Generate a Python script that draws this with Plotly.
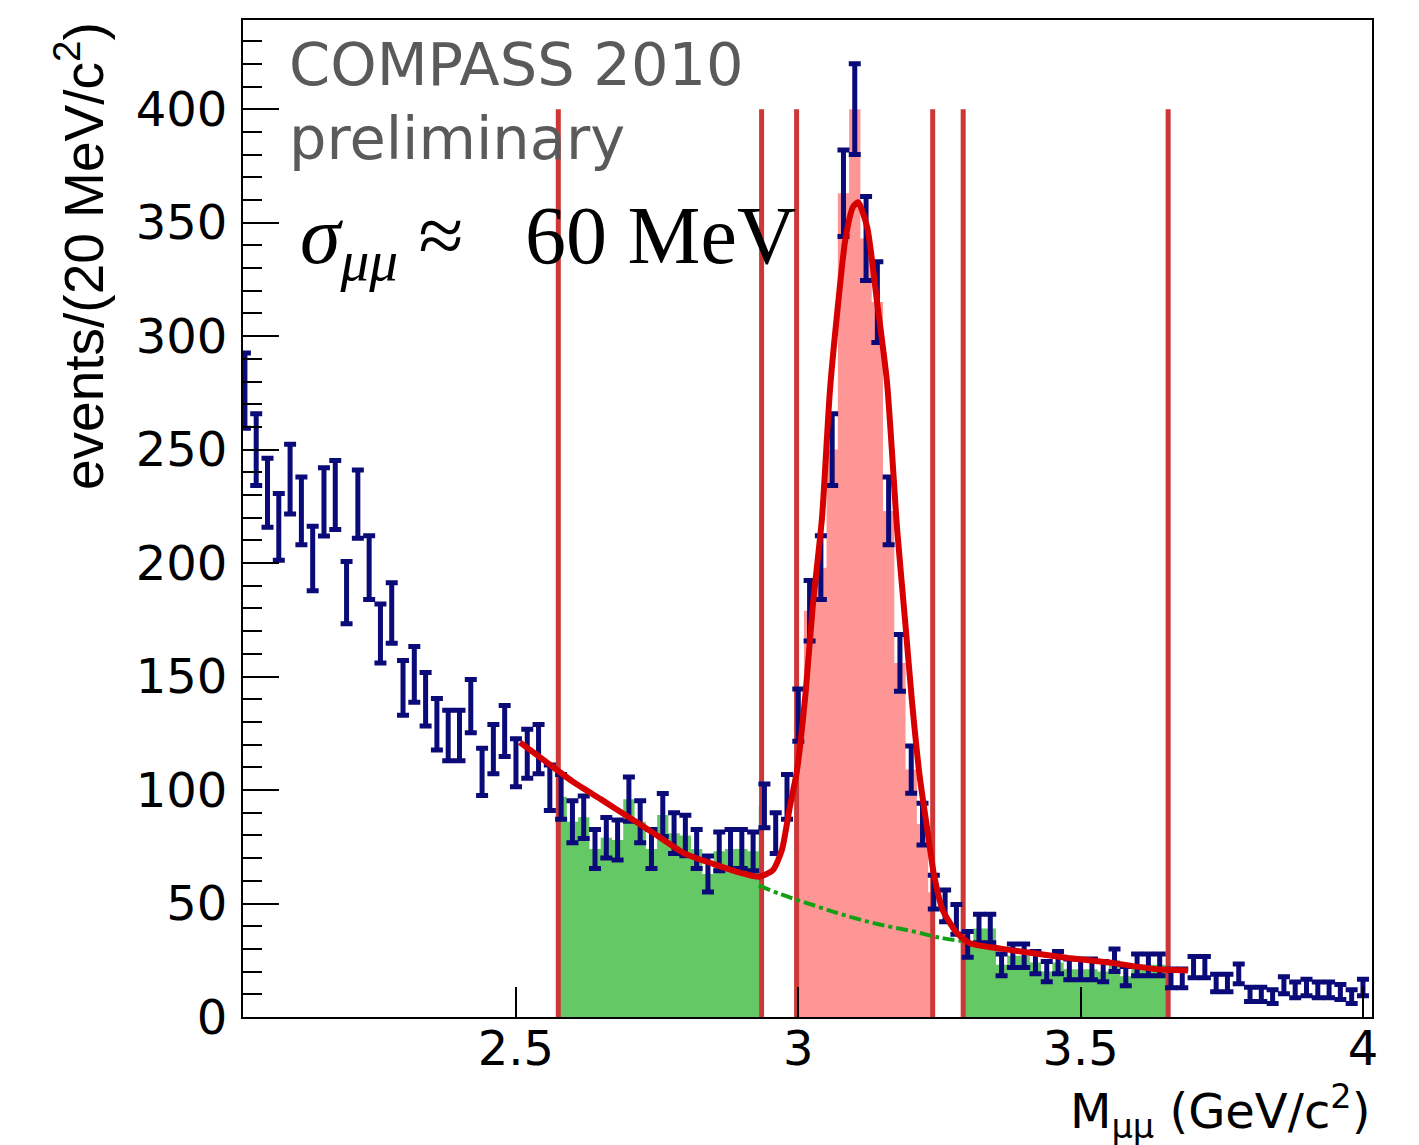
import numpy as np
import plotly.graph_objects as go

# ---------------- data ----------------
bin_width = 0.02
mass_first = 2.02
counts = [276, 250, 231, 216, 237, 223, 202, 227, 230, 187,
          226, 198, 169, 178, 145, 151, 140, 129, 124, 124,
          137, 108, 118, 126, 112, 116, 118, 101, 97, 86,
          88, 74, 79, 78, 96, 86, 74, 89, 81, 80,
          74, 63, 73, 74, 74, 73, 93, 81, 97, 133,
          179, 198, 250, 363, 400, 343, 315, 223, 156, 109,
          85, 55, 49, 43, 32, 39, 39, 23, 27, 27,
          24, 20, 24, 21, 21, 21, 20, 25, 18, 23,
          23, 23, 17, 17, 22, 22, 15, 15, 19, 10,
          10, 9, 14, 12, 13, 12, 12, 11, 9, 13]
mass = [round(mass_first + bin_width * i, 3) for i in range(len(counts))]
errors = np.sqrt(np.array(counts, dtype=float))  # Poisson errors

# total fit curve
fit_x = [2.507, 2.553, 2.599, 2.650, 2.700, 2.750, 2.799, 2.849, 2.900, 2.930,
         2.955, 2.971, 2.985, 2.997, 3.003, 3.013, 3.026, 3.042, 3.056, 3.070,
         3.083, 3.097, 3.106, 3.122, 3.139, 3.157, 3.175, 3.189, 3.201, 3.215,
         3.230, 3.240, 3.256, 3.281, 3.304, 3.361, 3.420, 3.478, 3.550, 3.637, 3.690]
fit_y = [121, 112.5, 104, 96, 88, 80, 72, 67.5, 63.4, 61.8,
         64.7, 73.6, 92.6, 107.5, 119, 143, 182, 220, 276, 313,
         342, 357, 359, 348, 316, 280, 215, 175, 140, 106,
         80, 63, 47, 37, 32.5, 30, 28, 26, 24, 21, 20.5]

# background component (dashed)
bkg_x = [2.93, 2.97, 3.03, 3.08, 3.14, 3.20, 3.25, 3.29]
bkg_y = [58, 54, 49, 45, 41, 37.9, 35, 33.5]

# mass windows: side bands and signal region
side_low = (2.575, 2.935)
signal = (2.997, 3.238)
side_high = (3.292, 3.655)
window_top = 400

# ---------------- styles ----------------
NAVY = "rgb(10,10,120)"
FIT_RED = "rgb(215,0,0)"
LINE_RED = "rgb(205,55,55)"
GREEN_FILL = "rgb(100,200,100)"
RED_FILL = "rgb(255,150,150)"
GREEN_LINE = "rgb(20,160,20)"
SANS = "Liberation Sans, Arial, Helvetica, sans-serif"
WIDE = "DejaVu Sans, Liberation Sans, sans-serif"
SERIF = "Liberation Serif, Times New Roman, serif"


def step_fill(lo, hi):
    xs, ys = [lo], [0]
    for m, c in zip(mass, counts):
        left, right = m - bin_width / 2, m + bin_width / 2
        if right <= lo or left >= hi:
            continue
        xs += [max(left, lo), min(right, hi)]
        ys += [c, c]
    xs.append(hi)
    ys.append(0)
    return xs, ys


fig = go.Figure()

for (lo, hi), col in [(side_low, GREEN_FILL), (signal, RED_FILL), (side_high, GREEN_FILL)]:
    fx, fy = step_fill(lo, hi)
    fig.add_trace(go.Scatter(x=fx, y=fy, mode="lines", line=dict(width=0, shape="linear"),
                             fill="toself", fillcolor=col, hoverinfo="skip", showlegend=False))

# vertical window lines
vx, vy = [], []
for b in [side_low[0], side_low[1], signal[0], signal[1], side_high[0], side_high[1]]:
    vx += [b, b, None]
    vy += [0, window_top, None]
fig.add_trace(go.Scatter(x=vx, y=vy, mode="lines", line=dict(color=LINE_RED, width=5),
                         hoverinfo="skip", showlegend=False))

# background dashed
fig.add_trace(go.Scatter(x=bkg_x, y=bkg_y, mode="lines",
                         line=dict(color=GREEN_LINE, width=4, dash="dashdot", shape="spline"),
                         showlegend=False, hoverinfo="skip"))

# data points with error bars
fig.add_trace(go.Scatter(x=mass, y=counts, mode="markers",
                         marker=dict(size=0.1, color=NAVY, opacity=0),
                         error_y=dict(type="data", array=errors, visible=True,
                                      color=NAVY, thickness=5, width=6),
                         showlegend=False))

# fit curve
fig.add_trace(go.Scatter(x=fit_x, y=fit_y, mode="lines",
                         line=dict(color=FIT_RED, width=6, shape="spline", smoothing=0.6),
                         showlegend=False, hoverinfo="skip"))

fig.update_layout(
    width=1419, height=1145,
    margin=dict(l=243, r=47, t=20, b=128),
    plot_bgcolor="white", paper_bgcolor="white",
    showlegend=False,
    font=dict(family=SANS, color="black"),
)
fig.update_xaxes(range=[2.0166, 4.016], tickvals=[2.5, 3, 3.5, 4], ticktext=["2.5", "3", "3.5", "4"],
                 ticks="inside", ticklen=30, tickwidth=2, tickcolor="black",
                 showline=True, linewidth=2, linecolor="black", mirror=True,
                 showgrid=False, zeroline=False,
                 tickfont=dict(family=WIDE, size=48, color="black"), ticklabelstandoff=-12)
fig.update_yaxes(range=[0, 439.3], tickvals=list(range(0, 401, 50)),
                 ticks="inside", ticklen=36, tickwidth=2, tickcolor="black",
                 minor=dict(ticks="inside", ticklen=19, tickwidth=2, dtick=10, tickcolor="black"),
                 showline=True, linewidth=2, linecolor="black", mirror=True,
                 showgrid=False, zeroline=False,
                 tickfont=dict(family=WIDE, size=48, color="black"), ticklabelstandoff=4)

annotations = [
    dict(text="COMPASS 2010", x=287, y=28, font=dict(family=WIDE, size=59, color="rgb(90,90,90)")),
    dict(text="preliminary", x=287, y=102, font=dict(family=WIDE, size=59, color="rgb(90,90,90)")),
    dict(text="<i>σ</i><sub><i>μμ</i></sub> ≈\u00a0\u00a0 60 MeV", x=298, y=188,
         font=dict(family=SERIF, size=82, color="black")),
]
for a in annotations:
    fig.add_annotation(text=a["text"], xref="paper", yref="paper",
                       x=(a["x"] - 243) / 1129, y=(1017 - a["y"]) / 997,
                       xanchor="left", yanchor="top", showarrow=False, font=a["font"])

fig.add_annotation(text="M<sub>μμ</sub> (GeV/c<sup>2</sup>)", xref="paper", yref="paper",
                   x=1.0, y=-0.058, xanchor="right", yanchor="top", showarrow=False,
                   font=dict(family=WIDE, size=48, color="black"))
fig.add_annotation(text="events/(20 MeV/c<sup>2</sup>)", xref="paper", yref="paper",
                   x=(80 - 243) / 1129, y=1.0, xanchor="center", yanchor="top",
                   textangle=-90, showarrow=False,
                   font=dict(family=SANS, size=55, color="black"))

fig.write_html("out.html")
